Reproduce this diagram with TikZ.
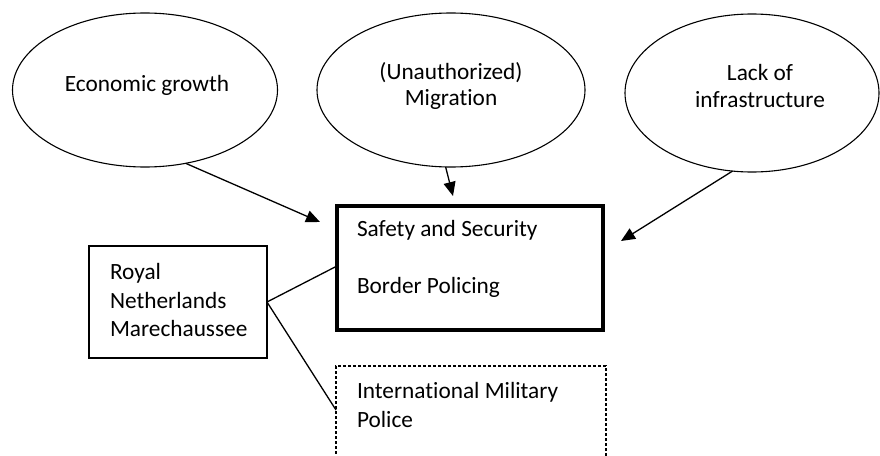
\documentclass[tikz,border=0pt]{standalone}
\usepackage{fontspec}
\setmainfont{Carlito}[Ligatures={NoCommon}]
\usetikzlibrary{shapes.geometric,arrows.meta}
\begin{document}
\begin{tikzpicture}[x=1pt,y=-1pt,
  every node/.style={inner sep=0pt,outer sep=0pt},
  ell/.style={draw,ellipse,line width=1.1pt},
  txt/.style={font=\fontsize{23.3}{26.5}\selectfont,align=center},
  ltxt/.style={font=\fontsize{23.3}{28.5}\selectfont,align=left},
  thinbox/.style={draw,rectangle,line width=1.2pt},
  thickbox/.style={draw,rectangle,line width=4.5pt},
  dashbox/.style={draw,rectangle,line width=1.2pt,dash pattern=on 3pt off 2pt},
  arr/.style={line width=1.3pt,-{Triangle[length=14pt,width=12pt]}},
  conn/.style={line width=1.3pt}]
\useasboundingbox (0,0) rectangle (880,455);
\clip (0,0) rectangle (880,455);
% ellipses
\node[ell,minimum width=265pt,minimum height=154pt] (e1) at (145,90) {};
\node[ell,minimum width=268pt,minimum height=154pt] (e2) at (451,90) {};
\node[ell,minimum width=254pt,minimum height=158pt] (e3) at (752,93) {};
\node[txt] (t1) at (147,85) {Economic growth};
\node[txt] (t2) at (451,86) {(Unauthorized)\\Migration};
\node[txt] (t3) at (760,86) {Lack of\\infrastructure};
% boxes
\node[thickbox,minimum width=266pt,minimum height=124pt] (sec) at (470,268) {};
\node[txt,anchor=base west] (s1) at (357,236) {Safety and Security};
\node[txt,anchor=base west] (s2) at (357,293) {Border Policing};
\node[thinbox,minimum width=178pt,minimum height=112pt] (rnm) at (178,302) {};
\node[ltxt,anchor=west] (r1) at (110,300) {Royal\\Netherlands\\Marechaussee};
\node[dashbox,minimum width=270pt,minimum height=120pt] (imp) at (471,426) {};
\node[ltxt,anchor=base west] (i1) at (357,398) {International Military};
\node[ltxt,anchor=base west] (i2) at (357,427) {Police};
% arrow tips
\coordinate (a1) at (320,222);
\coordinate (a2) at (453,196);
\coordinate (a3) at (621,241);
\draw[arr] (e1.-61) -- (a1);
\draw[arr] (e2.-94.6) -- (a2);
\draw[arr] (e3.-104.7) -- (a3);
% connectors
\coordinate (c1) at (sec.west |- 0,266);
\coordinate (c2) at (imp.west |- 0,410);
\draw[conn] (rnm.east) -- (c1);
\draw[conn] (rnm.east) -- (c2);
\end{tikzpicture}
\end{document}
